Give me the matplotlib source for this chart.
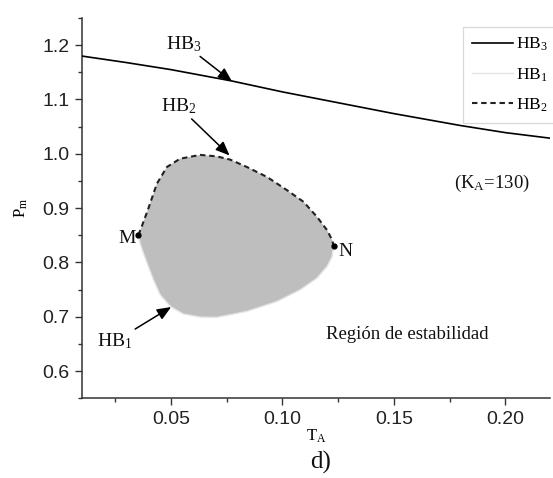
import matplotlib
matplotlib.use("Agg")
import matplotlib.pyplot as plt
from matplotlib.ticker import MultipleLocator, FormatStrFormatter

plt.rcParams['mathtext.fontset'] = 'custom'
plt.rcParams['mathtext.rm'] = 'Liberation Serif'
plt.rcParams['mathtext.it'] = 'Liberation Serif:italic'

# HB3 boundary (upper curve)
hb3_x = [0.010, 0.030, 0.050, 0.0774, 0.100, 0.125, 0.150, 0.180, 0.200, 0.2216]
hb3_y = [1.180, 1.168, 1.155, 1.134, 1.114, 1.094, 1.074, 1.052, 1.039, 1.028]

# HB2 boundary (dashed, from M to N over the top)
hb2_x = [0.0354, 0.0369, 0.0399, 0.0437, 0.0482, 0.0541, 0.0631, 0.0706, 0.0766,
         0.0841, 0.0931, 0.1021, 0.1095, 0.1155, 0.1200, 0.1223, 0.1230]
hb2_y = [0.8505, 0.866, 0.8995, 0.945, 0.9757, 0.991, 0.998, 0.9953, 0.9893,
         0.9757, 0.9574, 0.933, 0.9116, 0.884, 0.8597, 0.8414, 0.8304]

# HB1 boundary (lower, from N back to M)
hb1_x = [0.1230, 0.1226, 0.1223, 0.1200, 0.1155, 0.1080, 0.0976, 0.0841, 0.0706,
         0.0631, 0.0556, 0.0497, 0.0452, 0.0422, 0.0399, 0.0377, 0.0362, 0.0354]
hb1_y = [0.8304, 0.8200, 0.8108, 0.7925, 0.7712, 0.7498, 0.7283, 0.7100, 0.6990,
         0.6995, 0.7052, 0.7192, 0.7406, 0.7681, 0.7925, 0.8170, 0.8353, 0.8505]

# Special points
pt_M = (0.0354, 0.8505)
pt_N = (0.1230, 0.8304)

W, H = 553, 478
fig = plt.figure(figsize=(W / 100, H / 100), dpi=100)
ax = fig.add_axes([81.7 / W, (H - 398.3) / H, (550 - 81.7) / W, (398.3 - 18) / H])

# shaded region bounded by HB2 and HB1
ax.fill(hb2_x + hb1_x, hb2_y + hb1_y, color='#bebebe', lw=0, zorder=1)

l3, = ax.plot(hb3_x, hb3_y, color='black', lw=1.2, zorder=3, label=r'HB$_3$')
l1, = ax.plot(hb1_x, hb1_y, color='#e4e4e4', lw=1.0, zorder=2, label=r'HB$_1$')
l2, = ax.plot(hb2_x, hb2_y, color='#222222', lw=1.5, ls=(0, (2.6, 1.8)), zorder=3,
              label=r'HB$_2$')

ax.plot(*pt_M, 'o', color='black', ms=3.5, zorder=4)
ax.plot(*pt_N, 'o', color='black', ms=3.5, zorder=4)

ax.set_xlim(0.01, 0.22)
ax.set_ylim(0.55, 1.25)

for s in ['top', 'right']:
    ax.spines[s].set_visible(False)
for s in ['left', 'bottom']:
    ax.spines[s].set_color('#333333')
    ax.spines[s].set_linewidth(1.1)

ax.xaxis.set_major_locator(MultipleLocator(0.05))
ax.xaxis.set_minor_locator(MultipleLocator(0.025))
ax.yaxis.set_major_locator(MultipleLocator(0.1))
ax.yaxis.set_minor_locator(MultipleLocator(0.05))
ax.xaxis.set_major_formatter(FormatStrFormatter('%.2f'))
ax.yaxis.set_major_formatter(FormatStrFormatter('%.1f'))
ax.tick_params(which='major', direction='out', length=5, width=1.0, color='#333333',
               labelsize=14, pad=4)
ax.tick_params(which='minor', direction='out', length=3, width=1.0, color='#333333')
for lab in ax.get_xticklabels() + ax.get_yticklabels():
    lab.set_family('Liberation Sans')
    lab.set_color('#222222')

ax.set_xlabel(r'T$_\mathrm{A}$', family='Liberation Serif', fontsize=12, labelpad=0)
ax.set_ylabel(r'P$_\mathrm{m}$', family='Liberation Serif', fontsize=12, labelpad=9)

serif = dict(family='Liberation Serif', color='#111111')
arrow = dict(arrowstyle='-|>,head_length=0.6,head_width=0.25', color='black', lw=1.1,
             shrinkA=0, shrinkB=0)

ax.annotate(r'HB$_3$', xy=(0.0774, 1.1333), xytext=(0.0479, 1.193), fontsize=14,
            arrowprops=arrow, **serif)
ax.annotate(r'HB$_2$', xy=(0.0763, 0.997), xytext=(0.0455, 1.078), fontsize=14,
            arrowprops=arrow, **serif)
ax.annotate(r'HB$_1$', xy=(0.0501, 0.718), xytext=(0.0169, 0.645), fontsize=14,
            arrowprops=arrow, **serif)

ax.text(pt_M[0] - 0.0012, pt_M[1] - 0.014, 'M', ha='right', va='baseline', fontsize=14, **serif)
ax.text(pt_N[0] + 0.0022, pt_N[1] - 0.018, 'N', ha='left', va='baseline', fontsize=14, **serif)
ax.text(0.177, 0.9367, r'(K$_\mathrm{A}$=130)', fontsize=13.5, **serif)
ax.text(0.1197, 0.66, 'Región de estabilidad', fontsize=13.5, **serif)

fig.text(321 / W, 1 - 462 / H, 'd)', ha='center', va='center', fontsize=18, **serif)

leg = ax.legend(handles=[l3, l1, l2], loc='upper left',
                bbox_to_anchor=(463 / W, 1 - 27 / H), bbox_transform=fig.transFigure,
                borderaxespad=0, fancybox=False, frameon=True, handlelength=2.4,
                handletextpad=0.15, labelspacing=0.75, borderpad=0.5,
                prop=dict(family='Liberation Serif', size=12.5))
leg.get_frame().set_edgecolor('#cfcfcf')
leg.get_frame().set_linewidth(0.9)

fig.savefig('out.png', dpi=100)
